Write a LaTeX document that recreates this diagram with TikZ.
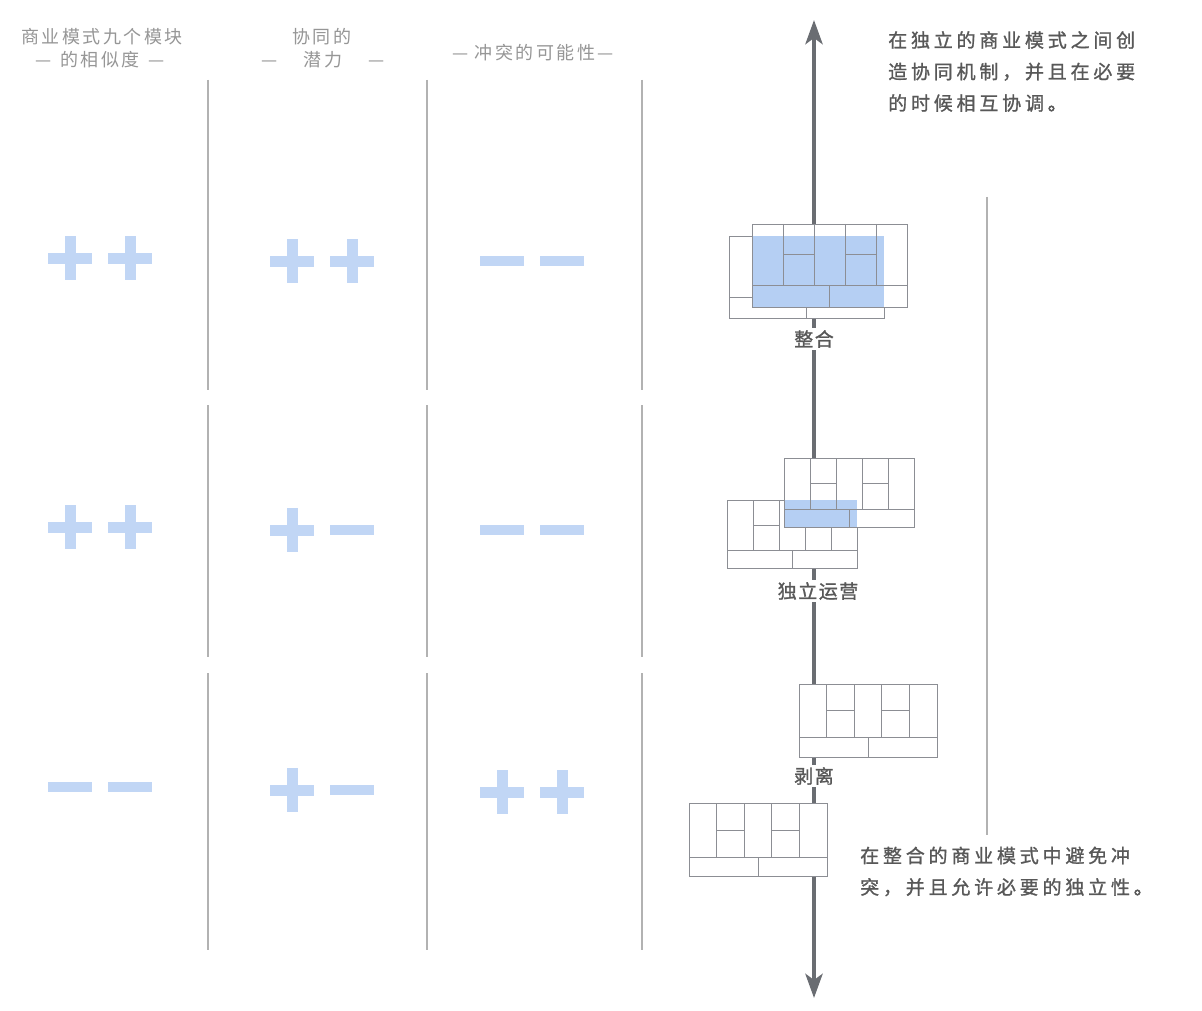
\documentclass[tikz,border=0pt]{standalone}
\usepackage{fontspec}
\usetikzlibrary{arrows.meta}

\newfontfamily\cjkwide[LetterSpace=20, FakeBold=1.2]{Noto Sans CJK SC}
\newfontfamily\cjkhdr[LetterSpace=14]{Noto Sans CJK SC}
\newfontfamily\cjklbl[LetterSpace=8, FakeBold=1.2]{Noto Sans CJK SC}

\definecolor{signblue}{RGB}{193,214,245}
\definecolor{overlapblue}{RGB}{181,207,243}
\definecolor{cvsline}{RGB}{140,142,148}
\definecolor{axisgray}{RGB}{106,109,114}
\definecolor{rulegray}{RGB}{178,178,178}
\definecolor{hdrgray}{RGB}{150,150,150}
\definecolor{txtgray}{RGB}{88,88,88}

% 商业模式画布：#1 x, #2 y（左上）, #3 宽, #4 高, #5 上半部高
\newcommand{\bmlines}[5]{%
  \pgfmathsetmacro\cw{#3/5}
  \foreach \i in {1,...,4} \draw[cvs] ({#1+\i*\cw},#2) -- ({#1+\i*\cw},{#2+#5});
  \draw[cvs] (#1,{#2+#5}) -- ({#1+#3},{#2+#5});
  \draw[cvs] ({#1+\cw},{#2+#5/2}) -- ({#1+2*\cw},{#2+#5/2});
  \draw[cvs] ({#1+3*\cw},{#2+#5/2}) -- ({#1+4*\cw},{#2+#5/2});
  \draw[cvs] ({#1+#3/2},{#2+#5}) -- ({#1+#3/2},{#2+#4});
  \draw[cvs] (#1,#2) rectangle ({#1+#3},{#2+#4});
}
\newcommand{\bmfill}[4]{\fill[white] (#1,#2) rectangle ({#1+#3},{#2+#4});}
\newcommand{\plusmark}[2]{%
  \fill[signblue] ({#1-22},{#2-5.5}) rectangle ({#1+22},{#2+5.5});
  \fill[signblue] ({#1-5.5},{#2-22}) rectangle ({#1+5.5},{#2+22});}
\newcommand{\minusmark}[2]{%
  \fill[signblue] ({#1-22},{#2-5}) rectangle ({#1+22},{#2+5});}

\begin{document}
\begin{tikzpicture}[x=1pt, y=-1pt, line join=miter,
  cvs/.style={draw=cvsline, line width=0.9pt},
  rule/.style={draw=rulegray, line width=1.1pt},
  hdr/.style={text=hdrgray, font=\cjkhdr\fontsize{18}{24}\selectfont, inner sep=1pt},
  lbl/.style={text=txtgray, fill=white, font=\cjklbl\fontsize{19}{24}\selectfont, inner sep=2pt},
  note/.style={text=txtgray, font=\cjkwide\fontsize{19}{31.5}\selectfont, align=left, inner sep=0pt, anchor=west},
  axis/.style={draw=axisgray, line width=4.5pt, {Stealth[length=24pt, width=17pt, inset=6pt]}-{Stealth[length=24pt, width=17pt, inset=6pt]}}]

  \fill[white] (0,0) rectangle (1202,1011);

  %% ════ 表头 ════
  \node[hdr] (simA) at (102,37) {商业模式九个模块};
  \node[hdr] (simB) at (100,60) {—\hspace{9pt}的相似度\hspace{9pt}—};
  \node[hdr] (synA) at (322,37) {协同的};
  \node[hdr] (synB) at (323,60) {—\hspace{26pt}潜力\hspace{26pt}—};
  \node[hdr] (conf) at (533,53) {— 冲突的可能性—};

  %% ════ 分隔竖线 ════
  \foreach \x in {208,427,642} {
    \draw[rule] (\x,80) -- (\x,390);
    \draw[rule] (\x,405) -- (\x,657);
    \draw[rule] (\x,673) -- (\x,950);
  }
  \draw[rule] (987,197) -- (987,835);

  %% ════ 加减号 ════
  % 第一行：++  ++  --
  \plusmark{70}{258}  \plusmark{130}{258}
  \plusmark{292}{261} \plusmark{352}{261}
  \minusmark{502}{261} \minusmark{562}{261}
  % 第二行：++  +-  --
  \plusmark{70}{527}  \plusmark{130}{527}
  \plusmark{292}{530} \minusmark{352}{530}
  \minusmark{502}{530} \minusmark{562}{530}
  % 第三行：--  +-  ++
  \minusmark{70}{787} \minusmark{130}{787}
  \plusmark{292}{790} \minusmark{352}{790}
  \plusmark{502}{792} \plusmark{562}{792}

  %% ════ 主轴 ════
  \coordinate (axtop) at (814,20);
  \coordinate (axbot) at (814,998);
  \draw[axis] (axbot) -- (axtop);

  %% ════ 整合 ════
  \bmfill{729}{236}{155}{82}
  \bmlines{729}{236}{155}{82}{61}
  \bmfill{752}{224}{155}{83}
  \fill[overlapblue] (752,236) rectangle (884,307);
  \bmlines{752}{224}{155}{83}{61}

  %% ════ 独立运营 ════
  \bmfill{727}{500}{130}{68}
  \bmlines{727}{500}{130}{68}{50}
  \bmfill{784}{458}{130}{69}
  \fill[overlapblue] (784,500) rectangle (857,527);
  \bmlines{784}{458}{130}{69}{51}

  %% ════ 剥离 ════
  \bmfill{799}{684}{138}{73}
  \bmlines{799}{684}{138}{73}{53}
  \bmfill{689}{803}{138}{73}
  \bmlines{689}{803}{138}{73}{54}

  %% ════ 标签 ════
  \node[lbl] (integ) at (814,339) {整合};
  \node[lbl] (indep) at (818,591) {独立运营};
  \node[lbl] (split) at (814,776) {剥离};

  \node[note] (noteTop) at (888,71.5) {在独立的商业模式之间创\\造协同机制，并且在必要\\的时候相互协调。};
  \node[note] (noteBot) at (860,871.5) {在整合的商业模式中避免冲\\突，并且允许必要的独立性。};

  \pgfresetboundingbox
  \path[use as bounding box] (0,0) rectangle (1202,1011);
\end{tikzpicture}
\end{document}
